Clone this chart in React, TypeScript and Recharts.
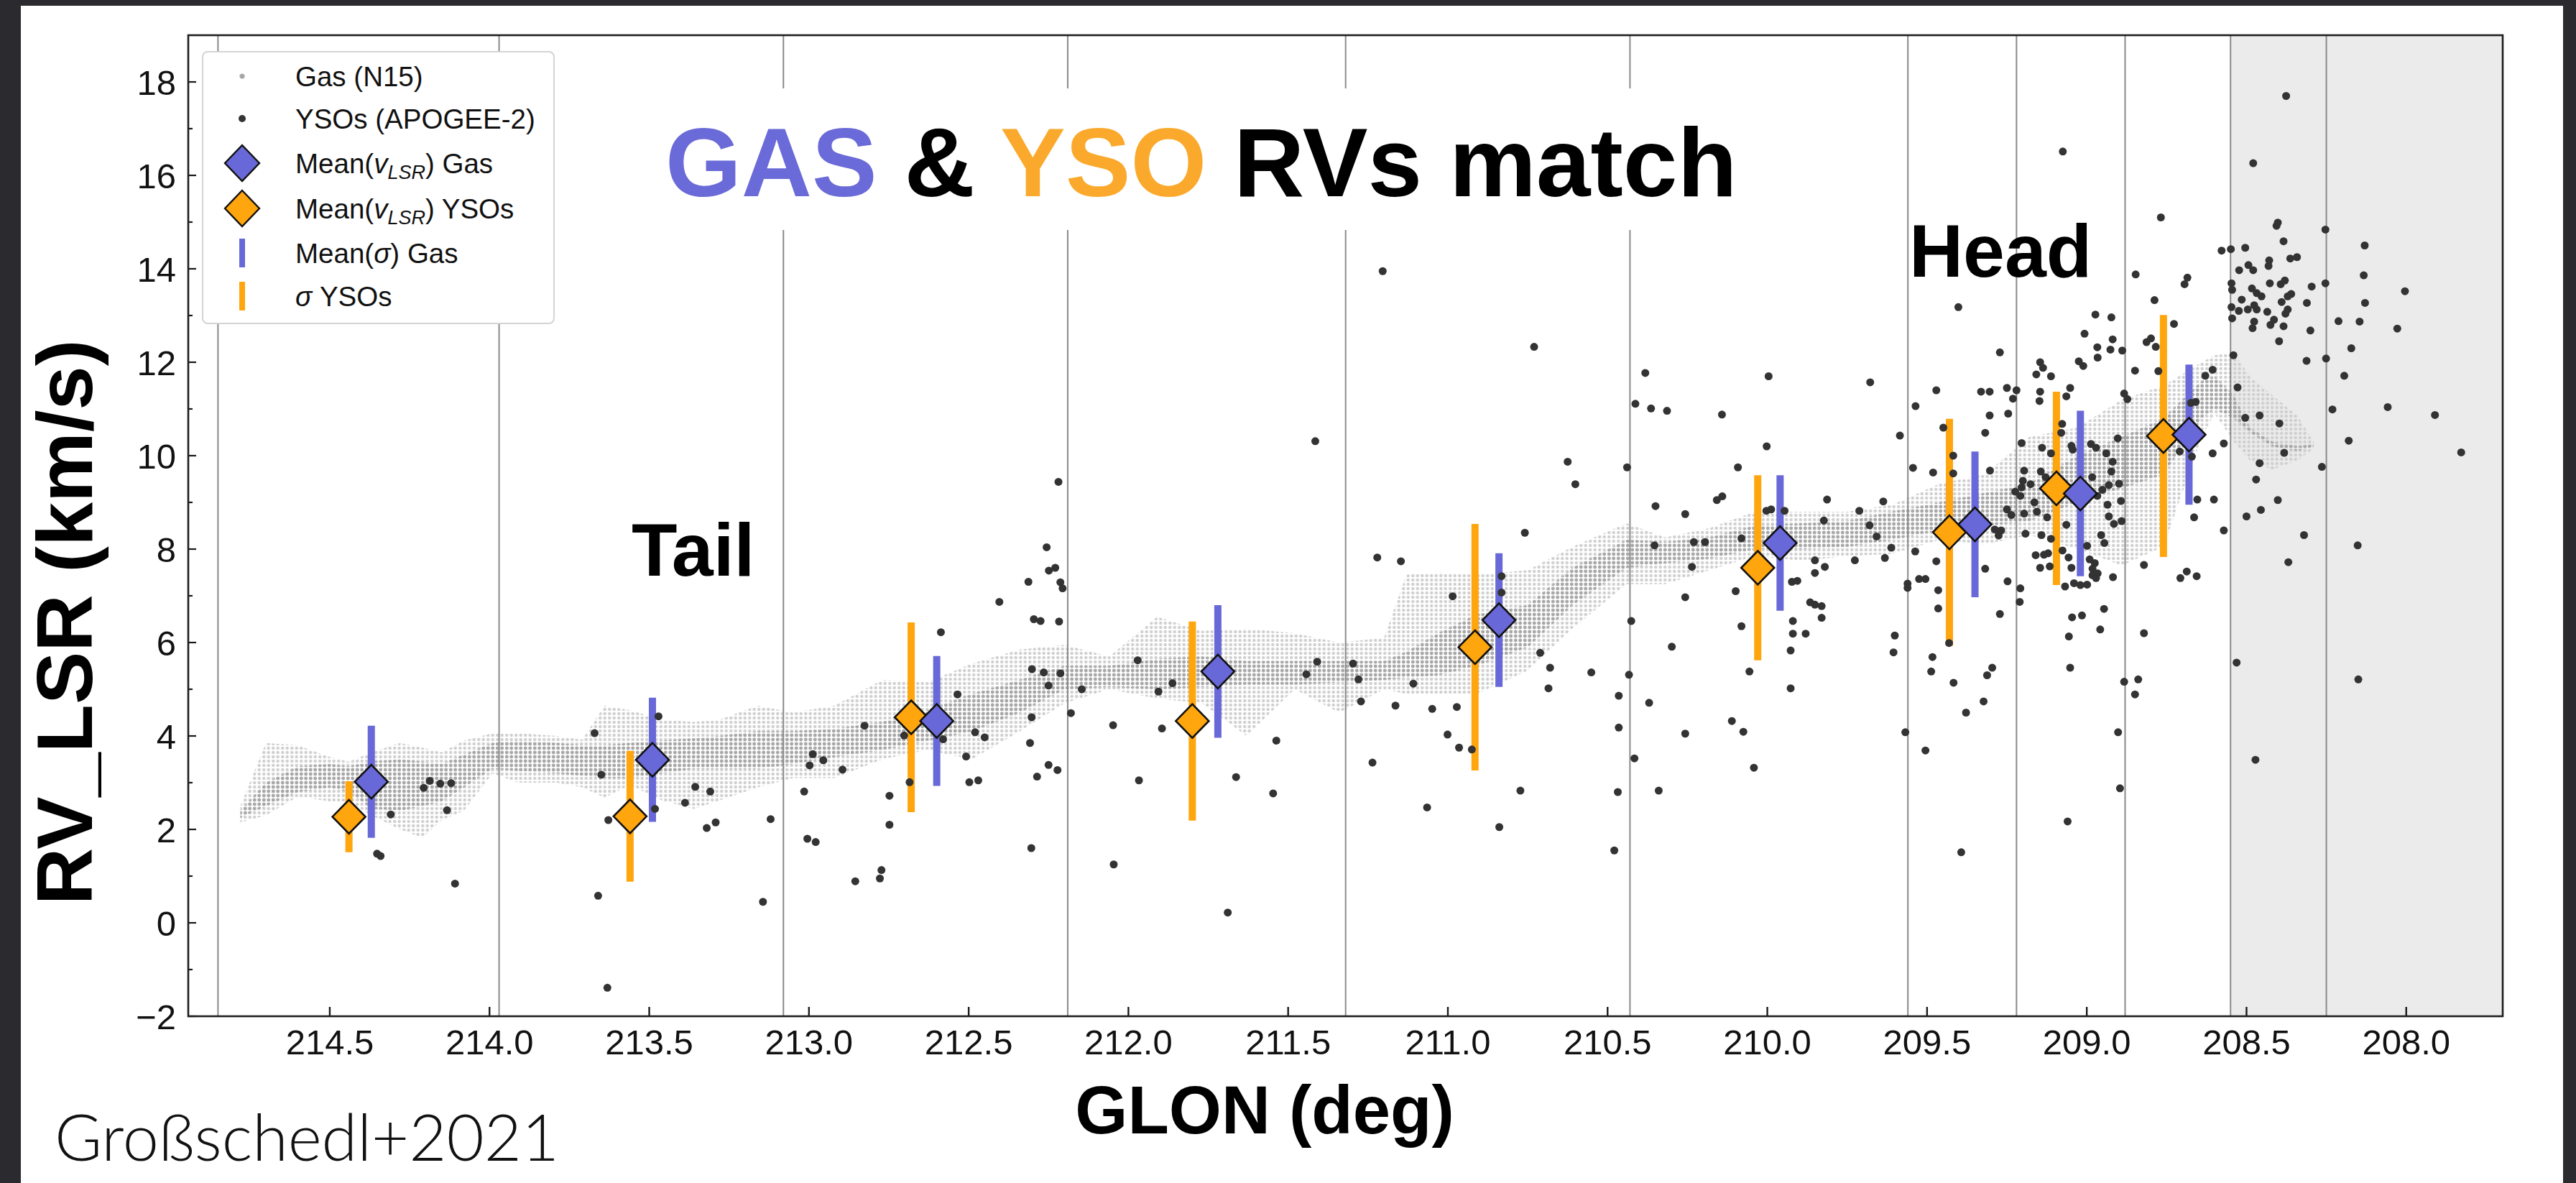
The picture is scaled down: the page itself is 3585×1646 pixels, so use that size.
import React from 'react'
import { ComposedChart, XAxis, YAxis, Scatter, Area, ErrorBar, ReferenceLine, ReferenceArea } from 'recharts'

const W = 3585
const H = 1646
const SANS = '"Liberation Sans", Arial, Helvetica, sans-serif'
const BLUE = '#6868d8'
const ORANGE = '#ffa50d'

const X_MIN = 207.698
const X_MAX = 214.943
const Y_MIN = -2
const Y_MAX = 19

const xTicks = [214.5, 214.0, 213.5, 213.0, 212.5, 212.0, 211.5, 211.0, 210.5, 210.0, 209.5, 209.0, 208.5, 208.0]
const yTicks = [-2, -1, 0, 1, 2, 3, 4, 5, 6, 7, 8, 9, 10, 11, 12, 13, 14, 15, 16, 17, 18]

// bin edges (vertical lines) and the greyed-out part of the head
const binEdges = [214.85, 213.97, 213.08, 212.19, 211.32, 210.43, 209.56, 209.22, 208.88, 208.55, 208.25]
const shadeFrom = 208.55

// mean velocities per bin
const gasMeanGlon = [214.37, 213.49, 212.6, 211.72, 210.84, 209.96, 209.35, 209.02, 208.68]
const gasMeanRv = [3.02, 3.49, 4.32, 5.38, 6.48, 8.13, 8.53, 9.19, 10.45]
const gasSigma = [1.2, 1.33, 1.39, 1.42, 1.43, 1.45, 1.56, 1.77, 1.5]

const ysoMeanGlon = [214.44, 213.56, 212.68, 211.8, 210.915, 210.03, 209.43, 209.095, 208.76]
const ysoMeanRv = [2.27, 2.28, 4.4, 4.32, 5.9, 7.6, 8.36, 9.3, 10.42]
const ysoSigma = [0.76, 1.4, 2.03, 2.13, 2.64, 1.98, 2.43, 2.07, 2.59]

// N15 gas: envelope of the point cloud (outer) and its dense core
const gasBandGlon = [214.78, 214.7, 214.6, 214.5, 214.44, 214.37, 214.28, 214.21, 214.15, 214.08, 213.99, 213.91, 213.79, 213.71, 213.64, 213.56, 213.46, 213.36, 213.28, 213.16, 213.05, 212.92, 212.77, 212.63, 212.49, 212.34, 212.2, 212.06, 211.91, 211.77, 211.63, 211.48, 211.34, 211.2, 211.13, 211.03, 210.91, 210.75, 210.61, 210.44, 210.32, 210.18, 210.04, 209.89, 209.75, 209.61, 209.46, 209.32, 209.18, 209.03, 208.89, 208.76, 208.64, 208.6, 208.54, 208.49, 208.42, 208.34, 208.29]
const gasOuterLow = [2.15, 2.3, 2.7, 2.6, 2.6, 2.3, 2.0, 1.82, 2.2, 2.4, 3.2, 3.0, 3.0, 2.9, 2.68, 2.95, 2.62, 2.44, 2.62, 2.9, 3.1, 3.1, 3.5, 3.7, 3.5, 4.1, 4.7, 5.0, 4.8, 4.7, 4.0, 5.0, 4.5, 5.0, 4.9, 4.9, 4.9, 5.4, 6.3, 7.25, 7.25, 7.55, 7.85, 7.75, 7.85, 7.9, 8.2, 8.1, 8.3, 8.0, 7.65, 8.05, 10.4, 10.9, 10.3, 9.9, 9.7, 9.9, 10.15]
const gasOuterHigh = [2.5, 3.85, 3.8, 3.55, 3.45, 3.65, 3.85, 3.75, 3.65, 3.9, 4.06, 4.06, 4.0, 3.92, 4.65, 4.55, 4.35, 4.3, 4.35, 4.65, 4.5, 4.65, 5.2, 5.15, 5.55, 5.85, 5.95, 5.7, 6.55, 6.25, 6.3, 6.2, 6.0, 6.1, 7.45, 7.5, 7.45, 7.55, 8.05, 8.55, 8.25, 8.45, 8.8, 8.8, 8.8, 8.95, 9.4, 9.6, 10.4, 10.6, 11.2, 11.5, 12.0, 12.15, 12.2, 11.7, 11.3, 10.85, 10.3]
const gasCoreLow = [2.25, 2.5, 2.8, 2.9, 2.8, 2.45, 2.4, 2.5, 2.6, 2.9, 3.3, 3.25, 3.2, 3.15, 3.1, 3.1, 3.2, 3.3, 3.3, 3.3, 3.4, 3.55, 3.7, 3.9, 4.1, 4.5, 5.0, 5.05, 5.0, 5.05, 5.1, 5.1, 5.15, 5.2, 5.25, 5.3, 5.5, 5.9, 6.8, 7.6, 7.7, 7.8, 8.0, 8.0, 8.05, 8.2, 8.4, 8.5, 8.6, 9.0, 9.3, 9.6, 10.8, 11.0, 10.8, 10.5, 10.2, 10.1, 10.2]
const gasCoreHigh = [2.4, 3.0, 3.35, 3.4, 3.35, 3.45, 3.5, 3.45, 3.4, 3.6, 3.85, 3.9, 3.85, 3.8, 3.8, 3.85, 3.9, 3.95, 4.0, 4.1, 4.1, 4.15, 4.3, 4.55, 4.9, 5.2, 5.5, 5.5, 5.65, 5.7, 5.6, 5.6, 5.6, 5.6, 5.8, 6.2, 6.6, 6.8, 7.6, 8.2, 8.15, 8.25, 8.5, 8.55, 8.6, 8.8, 9.0, 9.2, 9.4, 10.0, 10.4, 10.8, 11.6, 11.7, 11.3, 10.6, 10.3, 10.2, 10.25]

// APOGEE-2 YSOs: [GLON, RV]
const ysoStars: [number, number][] = [
  [214.352, 1.48], [214.341, 1.43], [214.309, 2.32], [214.206, 2.89], [214.187, 3.04], [214.154, 2.98], [214.12, 2.99], [214.133, 2.41], [214.108, 0.84],
  [213.671, 4.06], [213.65, 3.17], [213.628, 2.2], [213.66, 0.58], [213.631, -1.39], [213.482, 2.44], [213.471, 4.42], [213.388, 2.57], [213.356, 2.91], [213.32, 2.03], [213.309, 2.81], [213.292, 2.15], [213.144, 0.45], [213.12, 2.22],
  [213.015, 2.81], [213.005, 1.8], [212.998, 3.37], [212.988, 3.61], [212.979, 1.73], [212.955, 3.48], [212.895, 3.28], [212.855, 0.89], [212.826, 4.22], [212.778, 0.95], [212.773, 1.13], [212.748, 2.72], [212.748, 2.1], [212.702, 4.01], [212.685, 3.01],
  [212.587, 6.22], [212.58, 3.93], [212.535, 4.89], [212.508, 3.56], [212.498, 3.01], [212.48, 4.08], [212.47, 3.05], [212.45, 3.97], [212.404, 6.87], [212.313, 7.3], [212.308, 3.85], [212.304, 1.6], [212.303, 4.4], [212.302, 5.43], [212.296, 6.5], [212.286, 3.13], [212.275, 6.46], [212.265, 5.36], [212.256, 8.04], [212.25, 5.08], [212.25, 3.38], [212.249, 7.54], [212.229, 7.6], [212.222, 3.27], [212.219, 9.44], [212.217, 6.45], [212.213, 7.29], [212.213, 5.34], [212.206, 7.16],
  [212.18, 4.49], [212.146, 5.0], [212.048, 4.23], [212.046, 1.25], [211.971, 5.62], [211.967, 3.05], [211.906, 4.95], [211.895, 4.16], [211.862, 5.13], [211.689, 0.22], [211.663, 3.12], [211.547, 2.77], [211.537, 3.9], [211.443, 5.32], [211.415, 10.31], [211.409, 5.59],
  [211.297, 5.55], [211.28, 5.21], [211.272, 4.74], [211.236, 3.43], [211.221, 7.82], [211.204, 13.95], [211.164, 4.65], [211.147, 7.74], [211.108, 5.12], [211.065, 2.47], [211.049, 4.58], [211.001, 4.03], [210.985, 6.99], [210.972, 4.62], [210.965, 3.75], [210.925, 3.71], [210.839, 2.05], [210.832, 7.42], [210.832, 7.07],
  [210.773, 2.83], [210.759, 8.35], [210.73, 12.33], [210.711, 5.78], [210.685, 5.02], [210.68, 5.46], [210.625, 9.87], [210.601, 9.39], [210.551, 5.36],
  [210.479, 1.55], [210.468, 2.8], [210.465, 4.86], [210.465, 4.18], [210.439, 9.75], [210.433, 5.31], [210.426, 6.46], [210.416, 3.52], [210.413, 11.11], [210.382, 11.77], [210.37, 4.71], [210.364, 11.01], [210.353, 8.08], [210.35, 8.92], [210.34, 2.83], [210.314, 10.96], [210.299, 5.91], [210.257, 8.75], [210.257, 6.97], [210.257, 4.05], [210.236, 7.62], [210.23, 8.15], [210.195, 8.15], [210.158, 9.05], [210.142, 10.88], [210.141, 9.13], [210.111, 4.32], [210.099, 7.1], [210.092, 9.75], [210.081, 8.23], [210.081, 6.35], [210.075, 4.09], [210.056, 5.38], [210.042, 3.32],
  [210.003, 8.82], [210.002, 10.2], [209.996, 11.7], [209.988, 8.85], [209.946, 8.82], [209.927, 5.83], [209.927, 5.02], [209.923, 7.3], [209.92, 6.46], [209.92, 6.19], [209.906, 7.32], [209.88, 6.19], [209.866, 6.86], [209.851, 6.81], [209.851, 7.49], [209.851, 7.76], [209.83, 6.78], [209.83, 6.53], [209.823, 8.61], [209.82, 7.62], [209.813, 9.06],
  [209.726, 7.76], [209.712, 8.82], [209.68, 8.51], [209.678, 11.57], [209.658, 8.27], [209.637, 9.02], [209.632, 7.81], [209.612, 8.03], [209.605, 5.79], [209.601, 6.15], [209.585, 10.43], [209.568, 4.08], [209.561, 7.26], [209.561, 7.17],
  [209.544, 9.74], [209.537, 7.95], [209.536, 11.06], [209.525, 7.36], [209.505, 7.36], [209.505, 3.69], [209.487, 5.38], [209.483, 5.69], [209.481, 9.64], [209.471, 11.4], [209.471, 7.74], [209.465, 7.12], [209.465, 6.73], [209.449, 10.6], [209.431, 5.99], [209.418, 10.0], [209.418, 9.62], [209.417, 5.14], [209.402, 13.18], [209.393, 1.51], [209.378, 4.5], [209.331, 11.37], [209.323, 4.74], [209.318, 10.49], [209.318, 7.58], [209.312, 5.3], [209.304, 11.37], [209.304, 10.86], [209.303, 9.68], [209.296, 5.46], [209.288, 8.42], [209.276, 8.29], [209.272, 12.21], [209.272, 6.61], [209.268, 8.4], [209.25, 11.45], [209.25, 8.85], [209.248, 7.31], [209.246, 10.9], [209.236, 8.73], [209.231, 11.22], [209.224, 9.23], [209.22, 11.4],
  [209.21, 6.87], [209.208, 7.16], [209.208, 9.14], [209.204, 10.27], [209.204, 9.32], [209.2, 9.46], [209.196, 9.68], [209.196, 8.76], [209.192, 8.33], [209.176, 9.39], [209.164, 9.0], [209.16, 7.87], [209.158, 11.74], [209.156, 8.8], [209.148, 11.17], [209.146, 12.0], [209.146, 11.37], [209.146, 7.6], [209.144, 9.66], [209.142, 8.3], [209.14, 10.17], [209.137, 11.88], [209.134, 7.88], [209.129, 9.54], [209.124, 8.68], [209.121, 7.91], [209.116, 7.63], [209.112, 11.7], [209.112, 10.05], [209.112, 8.22], [209.08, 10.49], [209.077, 10.68], [209.076, 7.97], [209.075, 16.51], [209.068, 7.2], [209.064, 11.27], [209.064, 8.52], [209.06, 2.17], [209.057, 7.82], [209.056, 6.13], [209.052, 11.45], [209.052, 5.46], [209.048, 10.21], [209.048, 7.6], [209.046, 6.54], [209.044, 10.13], [209.04, 7.27], [209.025, 12.02], [209.02, 7.23], [209.015, 6.58], [209.011, 11.92], [209.007, 12.61],
  [208.999, 8.07], [208.999, 7.24], [208.991, 7.78], [208.987, 10.25], [208.983, 9.54], [208.982, 7.58], [208.982, 7.44], [208.975, 7.7], [208.973, 13.02], [208.971, 10.17], [208.971, 7.38], [208.967, 12.32], [208.967, 9.14], [208.966, 12.1], [208.966, 7.48], [208.958, 6.28], [208.955, 8.3], [208.951, 9.27], [208.946, 6.72], [208.945, 8.13], [208.939, 10.05], [208.935, 8.95], [208.931, 9.37], [208.931, 8.7], [208.926, 12.27], [208.923, 12.96], [208.923, 9.66], [208.919, 12.49], [208.919, 9.87], [208.918, 7.4], [208.915, 8.54], [208.903, 10.37], [208.902, 4.08], [208.899, 9.4], [208.896, 2.88], [208.893, 9.03], [208.891, 8.6], [208.889, 12.25], [208.883, 11.33], [208.883, 5.16], [208.873, 11.21],
  [208.849, 11.82], [208.849, 4.89], [208.847, 13.88], [208.839, 5.21], [208.821, 7.66], [208.821, 6.2], [208.813, 12.43], [208.799, 12.51], [208.788, 13.33], [208.784, 12.33], [208.776, 11.81], [208.768, 15.1], [208.727, 12.82], [208.709, 10.09], [208.707, 7.38], [208.694, 13.67], [208.687, 7.52], [208.685, 13.81], [208.674, 11.13], [208.671, 9.98], [208.664, 8.68], [208.659, 11.15], [208.656, 7.42], [208.654, 9.06], [208.629, 11.71], [208.606, 11.84], [208.606, 10.05], [208.602, 9.06], [208.578, 14.39], [208.571, 10.26], [208.571, 8.4],
  [208.549, 14.42], [208.547, 13.69], [208.547, 13.18], [208.545, 13.55], [208.545, 12.94], [208.541, 12.15], [208.531, 5.57], [208.528, 11.46], [208.524, 13.1], [208.523, 13.97], [208.515, 13.34], [208.504, 14.45], [208.504, 10.81], [208.5, 8.7], [208.496, 13.13], [208.494, 14.08], [208.483, 13.58], [208.481, 12.73], [208.479, 16.26], [208.479, 13.97], [208.476, 13.22], [208.476, 12.87], [208.472, 3.49], [208.47, 9.49], [208.468, 13.48], [208.468, 13.13], [208.459, 10.86], [208.459, 9.84], [208.455, 8.84], [208.453, 13.41], [208.435, 13.08], [208.431, 14.06], [208.429, 14.18], [208.427, 13.69], [208.425, 12.8], [208.414, 12.91], [208.406, 14.92], [208.402, 14.99], [208.402, 9.05], [208.398, 12.45], [208.397, 10.69], [208.393, 13.67], [208.39, 13.29], [208.384, 14.59], [208.384, 12.77], [208.382, 10.06], [208.38, 13.75], [208.378, 13.04], [208.376, 17.7], [208.371, 13.41], [208.371, 13.13], [208.369, 7.72], [208.363, 14.22], [208.36, 13.46], [208.342, 14.25], [208.32, 8.3], [208.312, 12.03], [208.311, 13.27], [208.3, 12.68], [208.296, 13.62], [208.264, 9.76],
  [208.253, 14.84], [208.253, 13.69], [208.251, 12.08], [208.231, 10.99], [208.212, 12.88], [208.194, 11.71], [208.18, 10.32], [208.172, 12.3], [208.152, 8.08], [208.15, 5.21], [208.146, 12.87], [208.133, 13.86], [208.13, 14.5], [208.129, 13.27], [208.058, 11.04], [208.028, 12.72], [208.004, 13.52], [207.91, 10.87], [207.828, 10.07],
]

const gasBand = gasBandGlon.map((glon, i) => ({
  glon,
  outer: [gasOuterLow[i], gasOuterHigh[i]],
  core: [gasCoreLow[i], gasCoreHigh[i]],
}))
const ysoPoints = ysoStars.map(([glon, v]) => ({ glon, v }))
const gasMeans = gasMeanGlon.map((glon, i) => ({ glon, v: gasMeanRv[i], sig: gasSigma[i] }))
const ysoMeans = ysoMeanGlon.map((glon, i) => ({ glon, v: ysoMeanRv[i], sig: ysoSigma[i] }))

const StarDot = (p: any) => <circle cx={p.cx} cy={p.cy} r={5.5} fill="#333" />

const diamond = (fill: string) => (p: any) => (
  <path
    d={`M${p.cx},${p.cy - 23.5}L${p.cx + 23},${p.cy}L${p.cx},${p.cy + 23.5}L${p.cx - 23},${p.cy}Z`}
    fill={fill}
    stroke="#111"
    strokeWidth={2.6}
  />
)

const XTick = ({ x, y, payload }: any) => (
  <g>
    <line x1={x} x2={x} y1={y} y2={y - 13} stroke="#1a1a1a" strokeWidth={2.4} />
    <text x={x} y={y + 53} textAnchor="middle" fontSize={49} fontFamily={SANS} fill="#111">
      {Number(payload.value).toFixed(1)}
    </text>
  </g>
)

const YTick = ({ x, y, payload }: any) => {
  const v = Number(payload.value)
  const major = v % 2 === 0
  return (
    <g>
      <line x1={x} x2={x + (major ? 11 : 6)} y1={y} y2={y} stroke="#1a1a1a" strokeWidth={2.2} />
      {major && (
        <text x={x - 17} y={y + 17.5} textAnchor="end" fontSize={49} fontFamily={SANS} fill="#111">
          {v < 0 ? `\u2212${Math.abs(v)}` : v}
        </text>
      )}
    </g>
  )
}

const legendRows = [106, 165, 227, 290, 352, 412]

export default function App() {
  return (
    <div style={{ position: 'absolute', left: 0, top: 0, width: W, height: H, background: '#2a2a2f', overflow: 'hidden' }}>
      <div style={{ position: 'absolute', left: 29, top: 8, width: 3538, height: H - 8, background: '#fff' }} />
      <div style={{ position: 'absolute', left: 0, top: 0 }}>
        <ComposedChart width={W} height={H} data={gasBand} margin={{ top: 49, right: 102, bottom: 152, left: 182 }}>
          <defs>
            <pattern id="gasOuter" width="6.5" height="6" patternUnits="userSpaceOnUse">
              <circle cx="3.25" cy="3" r="2.2" fill="#cfcfcf" />
            </pattern>
            <pattern id="gasCore" width="6.5" height="6" patternUnits="userSpaceOnUse">
              <circle cx="3.25" cy="3" r="2.4" fill="#9a9a9a" />
            </pattern>
          </defs>
          <XAxis
            type="number"
            dataKey="glon"
            domain={[X_MIN, X_MAX]}
            reversed
            allowDataOverflow
            ticks={xTicks}
            interval={0}
            height={80}
            tickSize={0}
            tickMargin={0}
            axisLine={false}
            tickLine={false}
            tick={<XTick />}
          />
          <YAxis
            type="number"
            dataKey="v"
            domain={[Y_MIN, Y_MAX]}
            allowDataOverflow
            ticks={yTicks}
            interval={0}
            width={80}
            tickSize={0}
            tickMargin={0}
            axisLine={false}
            tickLine={false}
            tick={<YTick />}
          />
          <ReferenceArea x1={shadeFrom} x2={X_MIN} y1={Y_MIN} y2={Y_MAX} fill="#ebebeb" fillOpacity={1} stroke="none" />
          {binEdges.map((e) => (
            <ReferenceLine key={e} x={e} stroke="#8a8a8a" strokeWidth={2} />
          ))}
          <Area type="linear" dataKey="outer" stroke="none" fill="url(#gasOuter)" fillOpacity={1} isAnimationActive={false} />
          <Area type="linear" dataKey="core" stroke="none" fill="url(#gasCore)" fillOpacity={0.75} isAnimationActive={false} />
          <Scatter data={ysoPoints} shape={StarDot} isAnimationActive={false} />
          <Scatter data={ysoMeans} shape={diamond(ORANGE)} isAnimationActive={false}>
            <ErrorBar dataKey="sig" direction="y" width={0} strokeWidth={10} stroke={ORANGE} isAnimationActive={false} />
          </Scatter>
          <Scatter data={gasMeans} shape={diamond(BLUE)} isAnimationActive={false}>
            <ErrorBar dataKey="sig" direction="y" width={0} strokeWidth={10} stroke={BLUE} isAnimationActive={false} />
          </Scatter>
        </ComposedChart>
      </div>
      <svg width={W} height={H} style={{ position: 'absolute', left: 0, top: 0, pointerEvents: 'none' }} fontFamily={SANS}>
        {/* axes frame */}
        <rect x={262} y={49} width={3221} height={1365} fill="none" stroke="#1e1e1e" strokeWidth={2.6} />
        {/* title box */}
        <rect x={880} y={123} width={1600} height={197} fill="#fff" />
        <text x={926} y={273} fontSize={136} fontWeight={700} style={{ whiteSpace: 'pre' }}>
          <tspan fill="#6a6ad8">GAS</tspan>
          <tspan fill="#000">{' & '}</tspan>
          <tspan fill="#fba92c">YSO</tspan>
          <tspan fill="#000">{' RVs match'}</tspan>
        </text>
        <text x={879} y={801} fontSize={104} fontWeight={700} fill="#000">Tail</text>
        <text x={2657} y={385} fontSize={104} fontWeight={700} fill="#000">Head</text>
        {/* axis labels */}
        <text x={1760} y={1577} fontSize={94} fontWeight={700} textAnchor="middle" fill="#000">GLON (deg)</text>
        <text transform="translate(128,866) rotate(-90)" fontSize={110} fontWeight={700} textAnchor="middle" fill="#000">RV_LSR (km/s)</text>
        <text x={76} y={1615} fontSize={90} fontWeight={300} fontFamily='Lato, "Open Sans", sans-serif' fill="#111">Großschedl+2021</text>
        {/* legend */}
        <rect x={282} y={72} width={489} height={378} rx={7} fill="#fff" stroke="#d4d4d4" strokeWidth={2} />
        <circle cx={337} cy={legendRows[0]} r={3.6} fill="#a6a6a6" />
        <circle cx={337} cy={legendRows[1]} r={5} fill="#343434" />
        <path d={`M337,${legendRows[2] - 25}L361,${legendRows[2]}L337,${legendRows[2] + 25}L313,${legendRows[2]}Z`} fill={BLUE} stroke="#111" strokeWidth={2.4} />
        <path d={`M337,${legendRows[3] - 25}L361,${legendRows[3]}L337,${legendRows[3] + 25}L313,${legendRows[3]}Z`} fill={ORANGE} stroke="#111" strokeWidth={2.4} />
        <rect x={333} y={legendRows[4] - 20} width={8} height={40} fill={BLUE} />
        <rect x={333} y={legendRows[5] - 20} width={8} height={40} fill={ORANGE} />
        <g fontSize={38.5} fill="#111">
          <text x={411} y={legendRows[0] + 14}>Gas (N15)</text>
          <text x={411} y={legendRows[1] + 14}>YSOs (APOGEE-2)</text>
          <text x={411} y={legendRows[2] + 14}>
            Mean(<tspan fontStyle="italic">v</tspan>
            <tspan fontStyle="italic" fontSize={27} dy={8}>LSR</tspan>
            <tspan dy={-8}>) Gas</tspan>
          </text>
          <text x={411} y={legendRows[3] + 14}>
            Mean(<tspan fontStyle="italic">v</tspan>
            <tspan fontStyle="italic" fontSize={27} dy={8}>LSR</tspan>
            <tspan dy={-8}>) YSOs</tspan>
          </text>
          <text x={411} y={legendRows[4] + 14}>
            Mean(<tspan fontStyle="italic">σ</tspan>) Gas
          </text>
          <text x={411} y={legendRows[5] + 14} style={{ whiteSpace: 'pre' }}>
            <tspan fontStyle="italic">σ</tspan>{' YSOs'}
          </text>
        </g>
      </svg>
    </div>
  )
}
